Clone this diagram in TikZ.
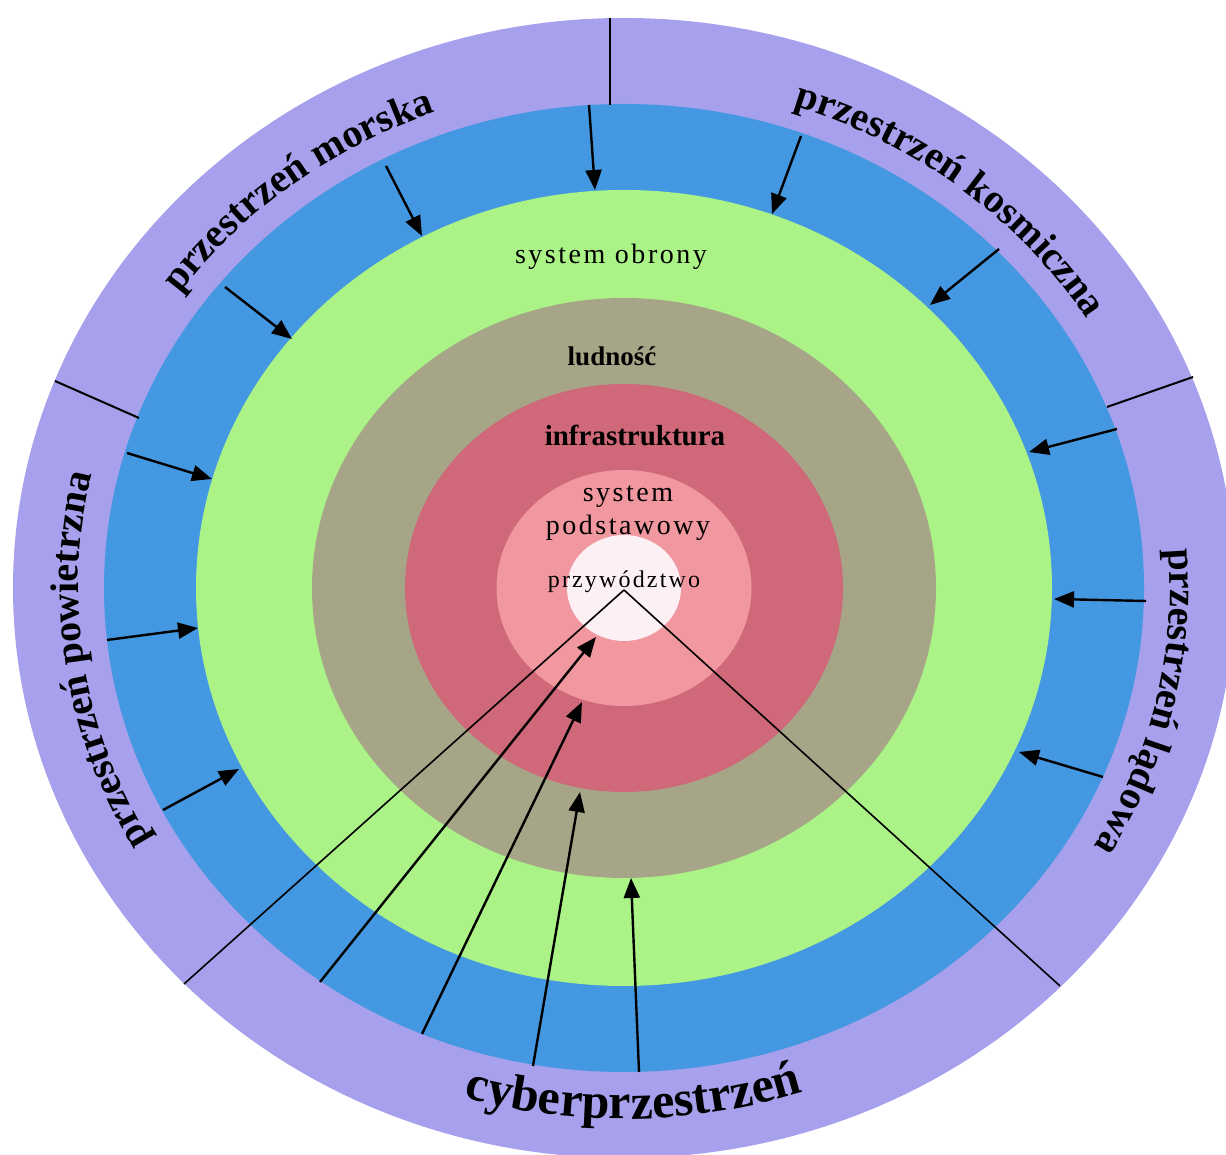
\documentclass[tikz,border=0pt]{standalone}
\usepackage{fontspec}
\setmainfont{Liberation Serif}
\newfontfamily\spacedfont[LetterSpace=9]{Liberation Serif}
\usetikzlibrary{arrows.meta,decorations.text}
\definecolor{ringpurple}{HTML}{A7A0EC}
\definecolor{ringblue}{HTML}{4398E1}
\definecolor{ringgreen}{HTML}{ABF287}
\definecolor{ringolive}{HTML}{A6A587}
\definecolor{ringred}{HTML}{CF6878}
\definecolor{ringpink}{HTML}{F0979F}
\definecolor{ringwhite}{HTML}{FCF0F4}
\begin{document}
\begin{tikzpicture}[x=1pt,y=1pt,
  arr/.style={line width=2.4pt,-{Triangle[length=20pt,width=16pt]}},
  sepline/.style={line width=2pt},
  vline/.style={line width=1.6pt},
  inlabel/.style={anchor=base,text=black},
  outlabel/.style={decorate,decoration={text along path,text align=center,text={#1}}}]
\useasboundingbox (0,0) rectangle (1226,1155);
\clip (0,0) rectangle (1226,1155);
\fill[white] (0,0) rectangle (1226,1155);
\coordinate (C) at (624,567);
% rings
\fill[ringpurple] (C) ellipse [x radius=611pt, y radius=570pt];
\fill[ringblue]   (C) ellipse [x radius=520pt, y radius=484pt];
\fill[ringgreen]  (C) ellipse [x radius=428pt, y radius=398pt];
\fill[ringolive]  (C) ellipse [x radius=312pt, y radius=290pt];
\fill[ringred]    (C) ellipse [x radius=219pt, y radius=204pt];
\fill[ringpink]   (C) ellipse [x radius=127.5pt, y radius=118pt];
\fill[ringwhite]  (C) ellipse [x radius=57pt, y radius=53pt];
% inner labels
\node[inlabel,font=\spacedfont\fontsize{28}{34}\selectfont] (obrona) at (611,891) {system obrony};
\node[inlabel,font=\bfseries\fontsize{27}{32}\selectfont] (ludnosc) at (612,789) {ludność};
\node[inlabel,font=\bfseries\fontsize{29}{34}\selectfont] (infra) at (635,709) {infrastruktura};
\node[inlabel,font=\spacedfont\fontsize{28}{34}\selectfont] (sys) at (628,653) {system};
\node[inlabel,font=\spacedfont\fontsize{28}{34}\selectfont] (podst) at (628,620) {podstawowy};
\node[inlabel,font=\spacedfont\fontsize{24}{28}\selectfont] (przyw) at (624,567) {przywództwo};
% outer labels
\path[outlabel={|\bfseries\fontsize{40}{48}\selectfont|przestrzeń morska}]
  (C) ++(157.7:546pt and 507pt) arc[start angle=157.7,end angle=97.7,x radius=546pt,y radius=507pt];
\path[outlabel={|\bfseries\fontsize{40}{48}\selectfont|przestrzeń kosmiczna}]
  (C) ++(81.7:546pt and 507pt) arc[start angle=81.7,end angle=21.7,x radius=546pt,y radius=507pt];
\path[outlabel={|\bfseries\fontsize{40}{48}\selectfont|przestrzeń powietrzna}]
  (C) ++(218.4:546pt and 507pt) arc[start angle=218.4,end angle=158.4,x radius=546pt,y radius=507pt];
\path[outlabel={|\bfseries\fontsize{40}{48}\selectfont|przestrzeń lądowa}]
  (C) ++(17:546pt and 507pt) arc[start angle=17,end angle=-43,x radius=546pt,y radius=507pt];
\path[outlabel={|\bfseries\fontsize{50}{60}\selectfont|cyberprzestrzeń}]
  (C) ++(241:572pt and 531pt) arc[start angle=241,end angle=301,x radius=572pt,y radius=531pt];
% separators
\coordinate (s1a) at (610,1137); \coordinate (s1b) at (610,1050);
\coordinate (s2a) at (55,774);   \coordinate (s2b) at (139,737);
\coordinate (s3a) at (1193,778); \coordinate (s3b) at (1107,748);
\draw[sepline] (s1a) -- (s1b);
\draw[sepline] (s2a) -- (s2b);
\draw[sepline] (s3a) -- (s3b);
% V lines into the centre
\coordinate (apex) at (624,565);
\coordinate (v1) at (184,171);
\coordinate (v2) at (1060,169);
\draw[vline] (v1) -- (apex);
\draw[vline] (v2) -- (apex);
% arrows from the outer domains
\coordinate (a1s) at (589,1050);  \coordinate (a1t) at (595,965);
\coordinate (a2s) at (386,989);   \coordinate (a2t) at (422,919);
\coordinate (a3s) at (225,868);   \coordinate (a3t) at (292,816);
\coordinate (a4s) at (127,702);   \coordinate (a4t) at (212,676);
\coordinate (a5s) at (107,515);   \coordinate (a5t) at (198,527);
\coordinate (a6s) at (163,345);   \coordinate (a6t) at (239,386);
\coordinate (a7s) at (801,1019);  \coordinate (a7t) at (772,941);
\coordinate (a8s) at (999,906);   \coordinate (a8t) at (930,850);
\coordinate (a9s) at (1117,726);  \coordinate (a9t) at (1029,703);
\coordinate (a10s) at (1146,554); \coordinate (a10t) at (1054,556);
\coordinate (a11s) at (1103,378); \coordinate (a11t) at (1019,403);
\foreach \k in {1,...,11} {\draw[arr] (a\k s) -- (a\k t);}
% cyber arrows
\coordinate (b1s) at (639,83);  \coordinate (b1t) at (631,277);
\coordinate (b2s) at (533,89);  \coordinate (b2t) at (580,363);
\coordinate (b3s) at (422,121); \coordinate (b3t) at (582,453);
\coordinate (b4s) at (320,173); \coordinate (b4t) at (596,518);
\foreach \k in {1,...,4} {\draw[arr] (b\k s) -- (b\k t);}
\end{tikzpicture}
\end{document}
